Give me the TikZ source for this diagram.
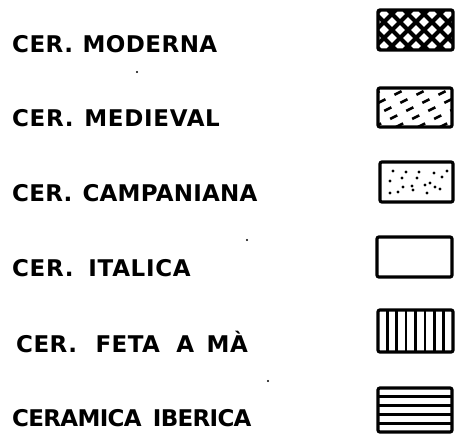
\documentclass[tikz,border=0pt]{standalone}
\usepackage{fontspec}
\setsansfont{DejaVu Sans}
\usepackage{xcolor}

\tikzset{
  rotulo/.style={anchor=base west, inner sep=0pt,
    font=\sffamily\bfseries\fontsize{23}{23}\selectfont\addfontfeatures{LetterSpace=#1}},
  rotulo/.default=2,
  caja/.style={line width=3.2pt, rounded corners=2pt},
}

\begin{document}
\begin{tikzpicture}[x=1pt, y=-1pt]
        % Marco de la leyenda
        \useasboundingbox (0,0) rectangle (463,447);

        % Cerámica moderna
        \node[rotulo] (moderna) at (12,52) {CER.\hspace{1pt} MODERNA};
        \begin{scope}
          \clip (378,10) rectangle (453,50);
          \foreach \i in {-4,...,8} {
            \draw[line width=4.2pt] (340+\i*16,10) -- ++(40,40);
            \draw[line width=4.2pt] (340+\i*16,50) -- ++(40,-40);
          }
        \end{scope}
        \draw[caja] (378,10) rectangle (453,50);

        % Cerámica medieval
        \node[rotulo=3] (medieval) at (12,126) {CER.\hspace{2pt} MEDIEVAL};
        \begin{scope}
          \clip (378,88) rectangle (452,127);
          \foreach \i in {-3,...,4}
            \draw[line width=2.5pt, dash pattern=on 8pt off 10pt] (352+\i*22,127) -- ++(80,-40);
        \end{scope}
        \draw[caja] (378,88) rectangle (452,127);

        % Cerámica campaniana
        \node[rotulo=1] (campaniana) at (12,201) {CER.\hspace{2pt} CAMPANIANA};
        \foreach \p in {(393,171),(406,172),(419,172),(434,173),(447,171),
                        (390,181),(402,178),(417,178),(430,183),(442,177),
                        (403,187),(412,186),(425,185),(435,187),
                        (390,193),(398,192),(413,190),(427,193),(440,189)}
          \fill \p circle (1.6);
        \draw[caja] (380,162) rectangle (453,202);

        % Cerámica itálica
        \node[rotulo=3] (italica) at (12,276) {CER.\hspace{6pt} ITALICA};
        \draw[caja] (377,237) rectangle (452,277);

        % Cerámica feta a mà
        \node[rotulo] (fetaama) at (16,352) {CER.\hspace{10pt} FETA\hspace{8pt} A\hspace{4pt} MÀ};
        \foreach \k in {1,...,7}
          \draw[line width=2.6pt] (378+\k*9.375,310) -- (378+\k*9.375,352);
        \draw[caja] (378,310) rectangle (453,352);

        % Cerámica ibérica
        \node[rotulo=-3] (iberica) at (12,426) {CERAMICA\hspace{4pt} IBERICA};
        \foreach \k in {1,...,4}
          \draw[line width=3pt] (378,388+\k*8.8) -- (452,388+\k*8.8);
        \draw[caja] (378,388) rectangle (452,432);

        % Puntos sueltos
        \fill (137,72) circle (1.2);
        \fill (247,240) circle (1.2);
        \fill (268,381) circle (1.2);
    \end{tikzpicture}
\end{document}
